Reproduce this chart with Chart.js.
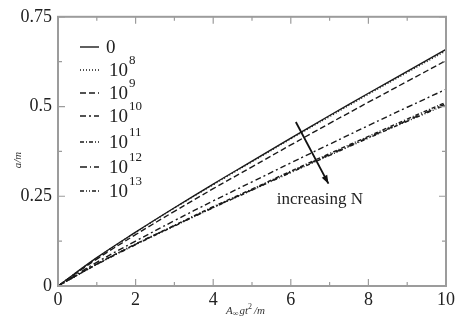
<!DOCTYPE html>
<html><head><meta charset="utf-8">
<script src="https://cdn.jsdelivr.net/npm/chart.js@4/dist/chart.umd.min.js"></script>
<style>html,body{margin:0;padding:0;background:#fff}#wrap{width:458px;height:324px}</style>
</head><body><div id="wrap"><canvas id="c" width="458" height="324"></canvas></div>
<script>
const xValues = [0,1,2,3,4,5,6,7,8,9,10];
const s0    = [0,0.079,0.150,0.218,0.284,0.348,0.412,0.475,0.537,0.598,0.659];
const s1e8  = [0,0.078,0.149,0.217,0.282,0.346,0.410,0.472,0.534,0.595,0.655];
const s1e9  = [0,0.075,0.143,0.208,0.271,0.332,0.393,0.453,0.512,0.570,0.628];
const s1e10 = [0,0.066,0.125,0.182,0.237,0.290,0.343,0.395,0.447,0.498,0.548];
const s1e11 = [0,0.061,0.117,0.169,0.221,0.270,0.320,0.369,0.417,0.465,0.512];
const s1e12 = [0,0.061,0.116,0.168,0.219,0.268,0.318,0.366,0.414,0.461,0.508];
const s1e13 = [0,0.060,0.115,0.167,0.218,0.267,0.316,0.364,0.412,0.459,0.505];
const labelBase = ['0','10','10','10','10','10','10'];
const labelExp  = ['','8','9','10','11','12','13'];
const xTicks = [0,2,4,6,8,10];
const yTicks = [0,0.25,0.5,0.75];
const yTickLabels = ['0','0.25','0.5','0.75'];
const annotationText = 'increasing N';
const arrowFrom = {x:6.13, y:0.457};
const arrowTo = {x:6.97, y:0.285};
const textPos = {x:6.75, y:0.24};

const series = [s0,s1e8,s1e9,s1e10,s1e11,s1e12,s1e13];
const dashes = [[],[1,2],[6,3],[6,3,2,3],[4,2,1,2],[7,3,1,3],[4,2,1,2,1,2]];
const datasets = series.map((s,i)=>({
  label: labelBase[i]+(labelExp[i]?'^'+labelExp[i]:''),
  data: xValues.map((x,j)=>({x:x,y:s[j]})),
  borderColor:'#1a1a1a', borderWidth:1.4, borderDash:dashes[i],
  pointRadius:0, tension:0.4, fill:false
}));
const serif = '"Liberation Serif", "DejaVu Serif", serif';
const frameColor = '#9c9c9c';

const deco = {
  id:'deco',
  afterDraw(chart){
    const {ctx, chartArea:a, scales:{x,y}} = chart;
    ctx.save();
    // frame
    ctx.strokeStyle = frameColor; ctx.lineWidth = 2;
    ctx.strokeRect(a.left, a.top, a.right-a.left, a.bottom-a.top);
    // ticks
    ctx.lineWidth = 1.2;
    for (let v=0; v<=10; v+=1){
      const px = x.getPixelForValue(v); const L = (v%2===0)?7:4;
      ctx.beginPath(); ctx.moveTo(px,a.bottom); ctx.lineTo(px,a.bottom-L);
      ctx.moveTo(px,a.top); ctx.lineTo(px,a.top+L); ctx.stroke();
    }
    for (let k=0;k<=6;k++){
      const v = k*0.125; const py = y.getPixelForValue(v); const L = (k%2===0)?7:4;
      ctx.beginPath(); ctx.moveTo(a.left,py); ctx.lineTo(a.left+L,py);
      ctx.moveTo(a.right,py); ctx.lineTo(a.right-L,py); ctx.stroke();
    }
    // legend
    ctx.fillStyle = '#222'; ctx.strokeStyle = '#1a1a1a'; ctx.lineWidth = 1.4;
    ctx.textBaseline = 'middle'; ctx.textAlign = 'left';
    const rows = [47,70,93,116,142,167,191];
    chart.data.datasets.forEach((d,i)=>{
      const yy = rows[i];
      ctx.setLineDash(d.borderDash);
      ctx.beginPath(); ctx.moveTo(80,yy); ctx.lineTo(99,yy); ctx.stroke();
      ctx.setLineDash([]);
      ctx.font = '19px '+serif;
      const tx = labelExp[i] ? 109 : 106;
      ctx.fillText(labelBase[i], tx, yy+1);
      if (labelExp[i]){
        const w = ctx.measureText(labelBase[i]).width;
        ctx.font = '13px '+serif;
        ctx.fillText(labelExp[i], tx+w+1, yy-9);
      }
    });
    // arrow
    const x1=x.getPixelForValue(arrowFrom.x), y1=y.getPixelForValue(arrowFrom.y);
    const x2=x.getPixelForValue(arrowTo.x), y2=y.getPixelForValue(arrowTo.y);
    ctx.strokeStyle='#111'; ctx.lineWidth=1.8;
    ctx.beginPath(); ctx.moveTo(x1,y1); ctx.lineTo(x2,y2); ctx.stroke();
    const ang=Math.atan2(y2-y1,x2-x1);
    ctx.fillStyle='#111';
    ctx.beginPath(); ctx.moveTo(x2,y2);
    ctx.lineTo(x2-9*Math.cos(ang-0.35), y2-9*Math.sin(ang-0.35));
    ctx.lineTo(x2-9*Math.cos(ang+0.35), y2-9*Math.sin(ang+0.35));
    ctx.closePath(); ctx.fill();
    // annotation text
    ctx.font='17px '+serif; ctx.textAlign='center'; ctx.fillStyle='#222';
    ctx.fillText(annotationText, x.getPixelForValue(textPos.x), y.getPixelForValue(textPos.y));
    // axis titles
    ctx.font='italic 11px '+serif; ctx.fillStyle='#333';
    ctx.textAlign='left';
    let cx = 226, cy = 311;
    ctx.fillText('A', cx, cy); cx += ctx.measureText('A').width;
    ctx.font='italic 8px '+serif; ctx.fillText('\u221E', cx, cy+3); cx += ctx.measureText('\u221E').width+1;
    ctx.font='italic 11px '+serif; ctx.fillText('gt', cx, cy); cx += ctx.measureText('gt').width;
    ctx.font='8px '+serif; ctx.fillText('2', cx, cy-4); cx += ctx.measureText('2').width+2;
    ctx.font='italic 11px '+serif; ctx.fillText('/m', cx, cy);
    ctx.save(); ctx.translate(18,160); ctx.rotate(-Math.PI/2);
    ctx.textAlign='center'; ctx.fillText('a/m',0,0); ctx.restore();
    ctx.restore();
  }
};

new Chart(document.getElementById('c'), {
  type:'line',
  data:{datasets},
  options:{
    responsive:false, animation:false, devicePixelRatio:1,
    layout:{padding:{left:0,right:10,top:15,bottom:0}},
    plugins:{legend:{display:false}, tooltip:{enabled:false}},
    scales:{
      x:{type:'linear', min:0, max:10,
        afterFit(s){s.height=38;},
        afterBuildTicks(s){s.ticks = xTicks.map(v=>({value:v}));},
        grid:{display:false, drawTicks:false}, border:{display:false},
        ticks:{color:'#222', font:{family:serif,size:18}, padding:3, maxRotation:0}},
      y:{type:'linear', min:0, max:0.75,
        afterFit(s){s.width=58;},
        afterBuildTicks(s){s.ticks = yTicks.map(v=>({value:v}));},
        grid:{display:false, drawTicks:false}, border:{display:false},
        ticks:{color:'#222', font:{family:serif,size:18}, padding:6,
          callback:(v)=>{const i=yTicks.indexOf(v); return i>=0?yTickLabels[i]:'';}}}
    }
  },
  plugins:[deco]
});
</script></body></html>
